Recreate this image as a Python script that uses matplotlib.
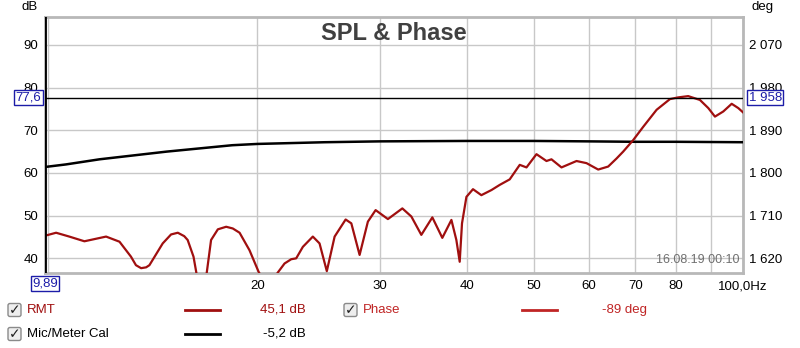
import numpy as np
import matplotlib
matplotlib.use("Agg")
import matplotlib.pyplot as plt
from matplotlib.patches import FancyBboxPatch

plt.rcParams['font.family'] = ['Liberation Sans', 'DejaVu Sans']

# RMT SPL curve (Hz, dB)
rmt_freq = [9.89, 10.26, 10.72, 11.27, 12.11, 12.66, 13.15, 13.37, 13.60, 13.83, 13.98, 14.61,
            15.02, 15.36, 15.69, 15.87, 16.18, 16.38, 16.60, 16.87, 17.15, 17.54, 18.03, 18.43,
            18.85, 19.48, 20.07, 20.70, 21.40, 21.88, 22.37, 22.74, 23.25, 24.03, 24.57, 25.17,
            25.83, 26.79, 27.30, 28.06, 28.84, 29.59, 30.82, 32.33, 33.31, 34.43,
            35.71, 36.91, 38.04, 38.67, 39.10, 39.40, 39.98, 40.86, 42.01, 43.44,
            44.64, 46.15, 47.71, 48.79, 50.43, 52.13, 53.00, 54.79, 57.59, 59.53,
            61.88, 63.96, 65.77, 67.22, 69.49, 71.83, 75.10, 78.49, 80.67, 83.39,
            86.70, 89.13, 91.12, 93.67, 96.32, 98.44, 100.0]
rmt_db = [45.3, 46.0, 45.1, 44.0, 45.1, 43.9, 40.4, 38.4, 37.7, 37.9, 38.4, 43.5,
          45.6, 46.0, 45.2, 44.3, 40.4, 35.5, 30.0, 35.5, 44.3, 46.8, 47.4, 47.0,
          46.0, 41.9, 36.9, 33.0, 36.7, 38.8, 39.8, 40.0, 42.7, 45.1, 43.5, 37.0,
          45.1, 49.1, 48.2, 40.8, 48.6, 51.3, 49.2, 51.7, 49.8, 45.5,
          49.6, 44.8, 49.0, 44.3, 39.2, 48.2, 54.4, 56.2, 54.8, 56.0,
          57.2, 58.5, 61.9, 61.3, 64.4, 62.8, 63.2, 61.3, 62.8, 62.3,
          60.8, 61.5, 63.4, 65.0, 67.7, 70.8, 74.8, 77.3, 77.7, 78.0,
          77.1, 75.2, 73.2, 74.4, 76.2, 75.2, 74.2]

# Mic/Meter calibration curve
cal_freq = [9.89, 10.60, 11.85, 14.8, 18.4, 20.0, 25.0, 30.0, 40.0, 50.0, 60.0, 70.0, 80.0, 100.0]
cal_db = [61.4, 62.0, 63.2, 65.0, 66.5, 66.8, 67.2, 67.4, 67.5, 67.5, 67.4, 67.3, 67.3, 67.2]

cursor_freq = 9.89
cursor_db = 77.6

x_ticks = [10, 20, 30, 40, 50, 60, 70, 80, 90, 100]
x_labels = ['', '20', '30', '40', '50', '60', '70', '80', '', '100,0Hz']
db_ticks = [40, 50, 60, 70, 80, 90]
deg_ticks = [1620, 1710, 1800, 1890, 1980, 2070]
deg_labels = ['1 620', '1 710', '1 800', '1 890', '1 980', '2 070']

legend_rows = [
    ('RMT', '45,1 dB', '#a00f0f', '#a00f0f'),
    ('Mic/Meter Cal', '-5,2 dB', 'black', 'black'),
]

red = '#a00f0f'
blue = '#1c1ca8'
grid_c = '#c8c8c8'

fig = plt.figure(figsize=(8, 3.48), dpi=100)
ax = fig.add_axes([45 / 800, 1 - 273.3 / 348, 698 / 800, 256.6 / 348])

ylo, yhi = 36.5, 96.6
ax.set_xscale('log')
ax.set_xlim(9.89, 100)
ax.set_ylim(ylo, yhi)

ax.plot(cal_freq, cal_db, color='black', lw=1.8, zorder=3)
ax.plot(rmt_freq, rmt_db, color=red, lw=1.6, zorder=4, solid_joinstyle='round')
ax.axhline(cursor_db, color='black', lw=1, zorder=5)
ax.axvline(cursor_freq, color='black', lw=2, zorder=6)

ax.set_xticks(x_ticks)
ax.set_xticklabels(x_labels)
ax.xaxis.set_minor_locator(matplotlib.ticker.NullLocator())
ax.set_yticks(db_ticks)
ax.grid(True, color=grid_c, lw=1)
ax.tick_params(length=0, labelsize=9.5, colors='black')
ax.tick_params(axis='y', pad=5)
ax.tick_params(axis='x', pad=5)
for s in ax.spines.values():
    s.set_color('#b8b8b8')
    s.set_linewidth(2)

ax2 = ax.twinx()
ax2.set_ylim(1620 + (ylo - 40) * 9, 1620 + (yhi - 40) * 9)
ax2.set_yticks(deg_ticks)
ax2.set_yticklabels(deg_labels)
ax2.tick_params(length=0, labelsize=9.5, pad=4)
for s in ax2.spines.values():
    s.set_visible(False)

ax2.text(0.5, 0.934, 'SPL & Phase', transform=ax.transAxes, ha='center', va='center',
         fontsize=17, fontweight='bold', color='#404040', zorder=7)
ax2.text(0.995, 0.03, '16.08.19 00:10', transform=ax.transAxes, ha='right', va='bottom',
         fontsize=9, color='#707070', zorder=7)

box = dict(boxstyle='square,pad=0.12', fc='white', ec=blue, lw=1)
ax2.text(-0.005, cursor_db, '77,6', transform=ax.get_yaxis_transform(), ha='right', va='center',
         fontsize=9.5, color=blue, bbox=box, zorder=8, clip_on=False)
ax2.text(1.008, cursor_db, '1 958', transform=ax.get_yaxis_transform(), ha='left', va='center',
         fontsize=9.5, color=blue, bbox=box, zorder=8, clip_on=False)
ax2.text(0.0, -0.015, '9,89', transform=ax.transAxes, ha='center', va='top',
         fontsize=9.5, color=blue, bbox=box, zorder=8, clip_on=False)

fig.text(30 / 800, 1 - 7 / 348, 'dB', ha='center', va='center', fontsize=9.5)
fig.text(752 / 800, 1 - 7 / 348, 'deg', ha='left', va='center', fontsize=9.5)

# legend area drawn in pixel space
lg = fig.add_axes([0, 0, 1, 1], zorder=-1)
lg.set_xlim(0, 800)
lg.set_ylim(348, 0)
lg.axis('off')


def checkbox(x, y):
    lg.add_patch(FancyBboxPatch((x, y - 6.5), 13, 13, boxstyle='round,pad=0,rounding_size=2',
                                fc='#eeeeee', ec='#8a8a8a', lw=1))
    lg.text(x + 6.5, y + 0.5, '\u2713', ha='center', va='center', fontsize=10,
            fontweight='bold', color='#202020', family='DejaVu Sans')


for i, (name, val, tc, lc) in enumerate(legend_rows):
    yy = 310 + 24 * i
    checkbox(8, yy)
    lg.text(27, yy, name, ha='left', va='center', fontsize=9.5, color=tc)
    lg.plot([185, 220], [yy, yy], color=lc, lw=2)
    lg.text(306, yy, val, ha='right', va='center', fontsize=9.5, color=tc)

checkbox(344, 310)
lg.text(363, 310, 'Phase', ha='left', va='center', fontsize=9.5, color='#c02525')
lg.plot([522, 557], [310, 310], color='#c02525', lw=2)
lg.text(602, 310, '-89 deg', ha='left', va='center', fontsize=9.5, color='#c02525')

fig.savefig('out.png', dpi=100)
